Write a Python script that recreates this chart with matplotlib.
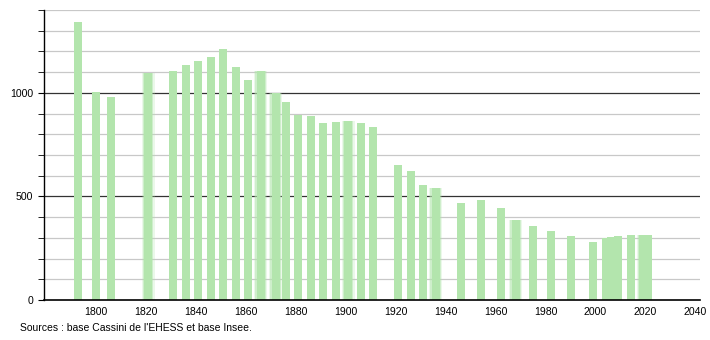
import matplotlib
matplotlib.use('Agg')
import matplotlib.pyplot as plt
from matplotlib.ticker import MultipleLocator, FixedLocator

plt.rcParams['font.family'] = ['Liberation Sans', 'DejaVu Sans']

years = [1793, 1800, 1806, 1821, 1831, 1836, 1841, 1846, 1851, 1856,
         1861, 1866, 1872, 1876, 1881, 1886, 1891, 1896, 1901, 1906,
         1911, 1921, 1926, 1931, 1936, 1946, 1954, 1962, 1968, 1975,
         1982, 1990, 1999, 2004, 2006, 2009, 2014, 2019, 2021]
population = [1340, 1005, 979, 1097, 1105, 1135, 1156, 1171, 1213, 1126,
              1060, 1105, 1000, 956, 895, 887, 855, 861, 864, 855,
              837, 653, 621, 553, 540, 468, 484, 442, 384, 358,
              334, 311, 281, 298, 305, 311, 313, 313, 314]
# bars that look soft-edged in the original rendering
fuzzy = [1821, 1866, 1872, 1901, 1936, 1968, 2019]

xticks = list(range(1800, 2041, 20))
source = "Sources : base Cassini de l'EHESS et base Insee."

green = '#b3e5ad'
bw = 3.2

fig = plt.figure(figsize=(7.1, 3.4), dpi=100)
ax = fig.add_axes([0.062, 0.1176, 0.924, 0.853])

ax.set_xlim(1779.4, 2041.8)
ax.set_ylim(0, 1400)

# grid
for v in range(100, 1401, 100):
    if v % 500 == 0:
        ax.axhline(v, color='#333333', lw=0.9, zorder=1)
    else:
        ax.axhline(v, color='#c8c8c8', lw=0.9, zorder=1)

for y, p in zip(years, population):
    if y in fuzzy:
        for extra, a in [(2.0, 0.25), (1.0, 0.5)]:
            ax.bar(y, p, width=bw + extra, color=green, alpha=a, lw=0, zorder=2)
    ax.bar(y, p, width=bw, color=green, lw=0, zorder=3)

ax.yaxis.set_major_locator(FixedLocator([0, 500, 1000]))
ax.yaxis.set_minor_locator(MultipleLocator(100))
ax.set_xticks(xticks)
ax.tick_params(axis='x', length=0, labelsize=7.6, pad=5)
ax.tick_params(axis='y', which='major', length=4, labelsize=7.6, pad=4)
ax.tick_params(axis='y', which='minor', length=4)

for s in ['top', 'right']:
    ax.spines[s].set_visible(False)
ax.spines['left'].set_linewidth(1.0)
ax.spines['bottom'].set_linewidth(1.2)
ax.spines['left'].set_zorder(4)
ax.spines['bottom'].set_zorder(4)

fig.text(20 / 710, 1 - 328 / 340, source, fontsize=7.5, va='center', ha='left')

fig.savefig('out.png', dpi=100)
